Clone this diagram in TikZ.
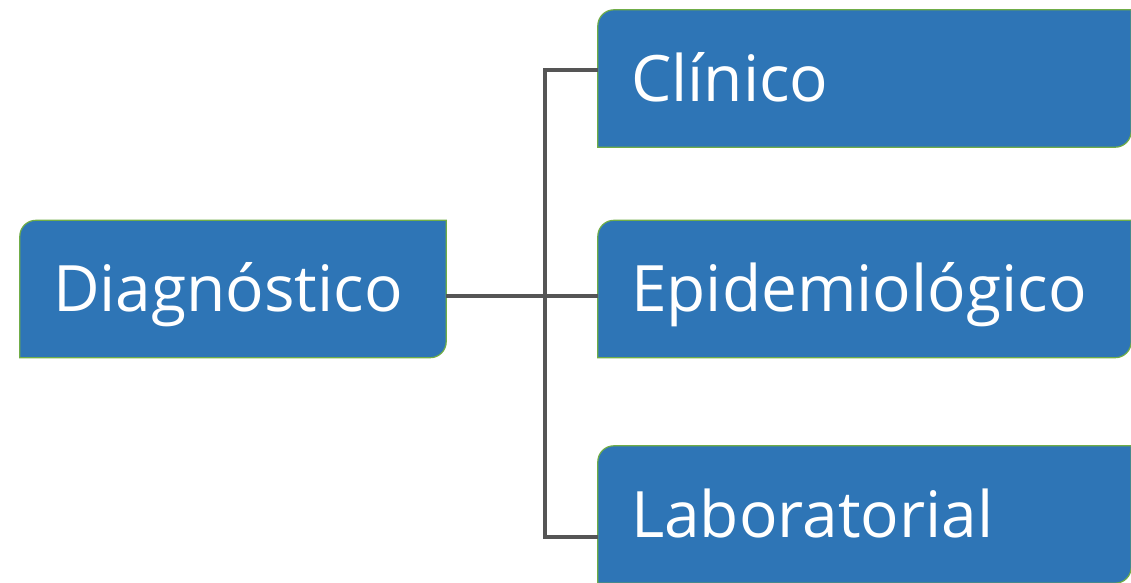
\documentclass[tikz,border=0pt]{standalone}
\usepackage{fontspec}
\setmainfont{Open Sans}
\usepackage{tikz}
\usetikzlibrary{positioning,backgrounds}

\definecolor{boxblue}{HTML}{2E75B6}
\definecolor{boxedge}{HTML}{70AD47}
\definecolor{linkgray}{HTML}{555555}

% box with two round corners (top left, bottom right)
\newcommand{\tabbox}[1]{%
  \draw[tabfill] (#1.south west) -- ([yshift=-16pt]#1.north west)
    arc[start angle=180, end angle=90, radius=16pt] -- (#1.north east)
    -- ([yshift=16pt]#1.south east)
    arc[start angle=0, end angle=-90, radius=16pt] -- cycle;}

\begin{document}
\begin{tikzpicture}[
    x=1pt, y=-1pt,
    box/.style={inner xsep=33pt, inner ysep=0pt, minimum height=137pt,
                align=left, text=white, text height=45pt, text depth=0pt,
                font=\fontsize{64}{76}\selectfont},
    tabfill/.style={fill=boxblue, draw=boxedge, line width=1.2pt},
    link/.style={draw=linkgray, line width=3.4pt},
  ]
  \useasboundingbox (0,0) rectangle (1131,582);

  % root and the three kinds
  \node[box, text width=360pt] (diag) at (233,289) {Diagnóstico};
  \node[box, text width=467pt] (clin) at (864.5,78.5) {Clínico};
  \node[box, text width=467pt] (epi) at (864.5,289) {Epidemiológico};
  \node[box, text width=467pt] (lab) at (864.5,514.5) {Laboratorial};

  \begin{scope}[on background layer]
    \foreach \n in {diag,clin,epi,lab}
      {\tabbox{\n}}
  \end{scope}

  % connectors
  \coordinate (top) at (545,70);
  \coordinate (hub) at (545,296);
  \coordinate (bot) at (545,537);
  \draw[link] (diag.east |- hub) -- (epi.west |- hub);
  \draw[link] (clin.west |- top) -- (top) -- (bot) -- (lab.west |- bot);
\end{tikzpicture}
\end{document}
